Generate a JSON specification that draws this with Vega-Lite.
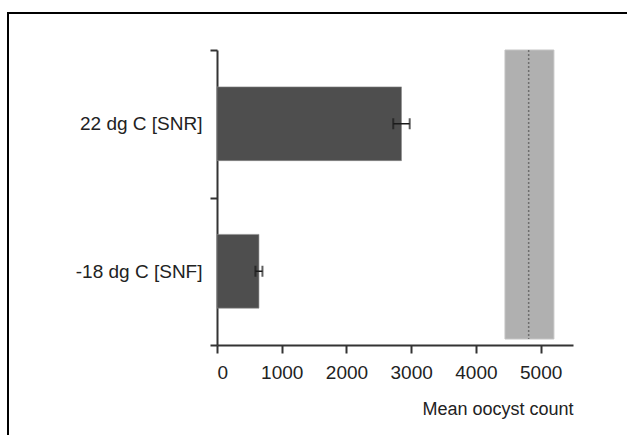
{
  "$schema": "https://vega.github.io/schema/vega-lite/v6.json",
  "width": 640,
  "height": 450,
  "autosize": "none",
  "padding": {"left": 8, "top": 13, "right": 0, "bottom": 0},
  "background": "white",
  "config": {
    "view": {"stroke": "#000000", "strokeWidth": 2},
    "font": "Liberation Sans",
    "axis": {"grid": false}
  },
  "datasets": {
    "bars": [
      {"group": "22 dg C [SNR]", "mean": 2850, "lo": 2723, "hi": 2977},
      {"group": "-18 dg C [SNF]", "mean": 648, "lo": 594, "hi": 702}
    ],
    "ref": [
      {"lo": 4449, "hi": 5205, "center": 4815}
    ]
  },
  "layer": [
    {
      "data": {"name": "ref"},
      "mark": {"type": "rect", "color": "#b0b0b0", "stroke": "#c4c4c4", "strokeWidth": 1},
      "encoding": {
        "x": {
          "field": "lo", "type": "quantitative",
          "scale": {"domain": [0, 5500], "range": [209, 565], "nice": false, "zero": false},
          "axis": {
            "orient": "bottom", "offset": -118,
            "title": "Mean oocyst count", "titleAnchor": "end", "titleAlign": "right",
            "titleFontSize": 18, "titleFontWeight": "normal", "titleColor": "#222222", "titlePadding": 18,
            "titleFont": "Liberation Sans",
            "values": [0, 1000, 2000, 3000, 4000, 5000], "format": "d",
            "domainColor": "#333333", "domainWidth": 2,
            "tickColor": "#333333", "tickWidth": 2, "tickSize": 8,
            "labelFontSize": 19, "labelColor": "#222222", "labelPadding": 10,
            "labelFont": "Liberation Sans"
          }
        },
        "x2": {"field": "hi"},
        "y": {"datum": 0, "type": "quantitative", "scale": {"domain": [0, 1], "range": [37, 326]}, "axis": null},
        "y2": {"datum": 1}
      }
    },
    {
      "data": {"name": "ref"},
      "mark": {"type": "rule", "color": "#6e6e6e", "strokeWidth": 1.5, "strokeDash": [2, 2]},
      "encoding": {
        "x": {"field": "center", "type": "quantitative"},
        "y": {"datum": 0, "type": "quantitative", "scale": {"domain": [0, 1], "range": [37, 326]}, "axis": null},
        "y2": {"datum": 1}
      }
    },
    {
      "data": {"name": "bars"},
      "mark": {"type": "bar", "color": "#4e4e4e", "stroke": "#8a8a8a", "strokeWidth": 0.6, "height": {"band": 0.5}},
      "encoding": {
        "y": {
          "field": "group", "type": "nominal", "sort": null,
          "scale": {"range": [37, 332], "paddingInner": 0, "paddingOuter": 0},
          "axis": {
            "title": null, "orient": "left", "offset": -209,
            "domainColor": "#333333", "domainWidth": 2,
            "tickColor": "#333333", "tickWidth": 2, "tickSize": 7, "tickBand": "extent",
            "labelFontSize": 19, "labelColor": "#222222", "labelPadding": 8,
            "labelFont": "Liberation Sans"
          }
        },
        "x": {"field": "mean", "type": "quantitative"}
      }
    },
    {
      "data": {"name": "bars"},
      "mark": {"type": "rule", "color": "#1a1a1a", "strokeWidth": 1.5},
      "encoding": {
        "y": {"field": "group", "type": "nominal", "sort": null, "scale": {"range": [37, 332], "paddingInner": 0, "paddingOuter": 0}, "axis": null},
        "x": {"field": "lo", "type": "quantitative"},
        "x2": {"field": "hi"}
      }
    },
    {
      "data": {"name": "bars"},
      "mark": {"type": "tick", "color": "#1a1a1a", "thickness": 2, "size": 11},
      "encoding": {
        "y": {"field": "group", "type": "nominal", "sort": null, "scale": {"range": [37, 332], "paddingInner": 0, "paddingOuter": 0}, "axis": null},
        "x": {"field": "lo", "type": "quantitative"}
      }
    },
    {
      "data": {"name": "bars"},
      "mark": {"type": "tick", "color": "#1a1a1a", "thickness": 2, "size": 11},
      "encoding": {
        "y": {"field": "group", "type": "nominal", "sort": null, "scale": {"range": [37, 332], "paddingInner": 0, "paddingOuter": 0}, "axis": null},
        "x": {"field": "hi", "type": "quantitative"}
      }
    }
  ],
  "resolve": {"scale": {"y": "independent"}}
}
